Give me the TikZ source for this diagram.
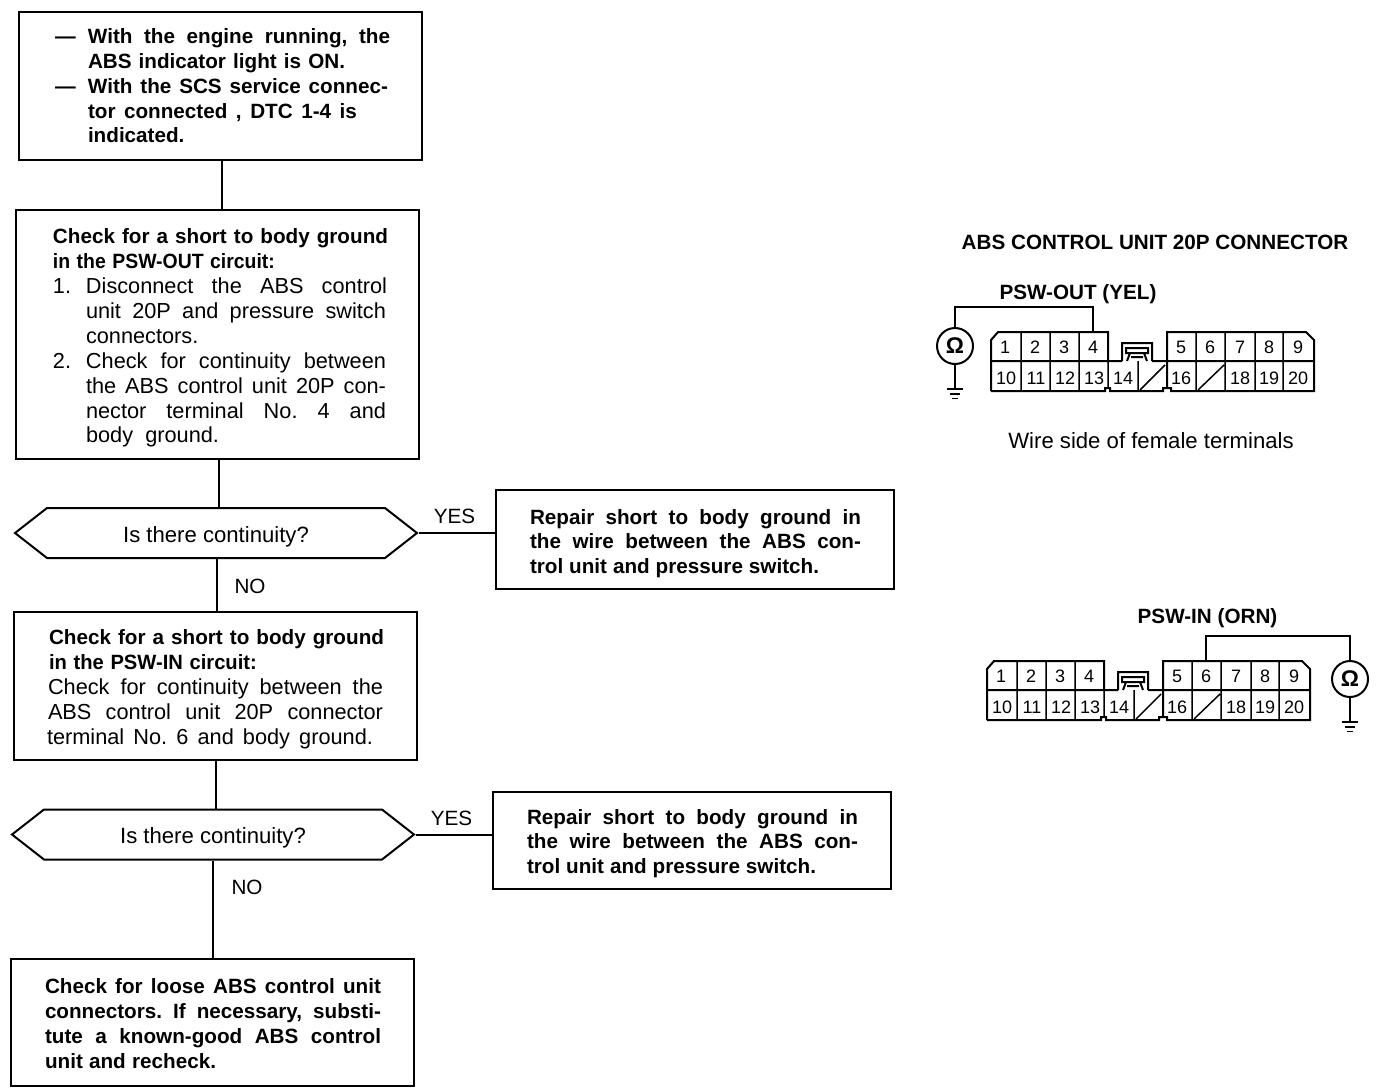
\documentclass[tikz,border=0pt]{standalone}
\usepackage{fontspec}
\setmainfont{Liberation Sans}
\usetikzlibrary{shapes.symbols}
\newdimen\pxu \pxu=0.75pt
\newcommand\TL[3]{\leavevmode\hspace*{#1\pxu}\makebox[#2\pxu][s]{\spaceskip=0pt\xspaceskip=0pt\frenchspacing #3}}
\newcommand\PF[2]{\leavevmode\makebox[0pt][l]{\hspace*{#1\pxu}#2}}
\newcommand\TP[1]{\leavevmode\rule{0pt}{#1pt}}
\newcommand\SX[3]{\leavevmode\hspace*{#1\pxu}\scalebox{#2}[1]{#3}}
\newcommand\RG{\fontsize{16.3}{18.7}\selectfont\mdseries}
\tikzset{
  x=0.75pt,y=-0.75pt,
  flowbox/.style n args={2}{draw,rectangle,inner sep=0pt,anchor=north west,align=left,
     minimum width=#1*0.75pt,minimum height=#2*0.75pt,text width=#1*0.75pt,
     font=\fontsize{15.5}{18.6}\selectfont\bfseries},
  decision/.style={draw,signal,signal to=east and west,signal pointer angle=76,inner sep=0pt,
     minimum width=402*0.75pt,minimum height=50*0.75pt,font=\fontsize{16.6}{18}\selectfont},
  lbl/.style={inner sep=0pt,font=\fontsize{15.5}{18}\selectfont},
  blbl/.style={inner sep=0pt,font=\fontsize{15.5}{18}\selectfont\bfseries},
  pin/.style={inner sep=0pt,text height=9.5pt,text depth=0pt,font=\fontsize{13.5}{15}\selectfont},
  ohm/.style={draw,circle,inner sep=0pt,minimum size=36*0.75pt,font=\fontsize{17}{18}\selectfont\bfseries},
  thin wire/.style={line width=1.1pt}
}
\newcommand\absconn[2]{%
 \begin{scope}[shift={(#2)}]
  \draw (991,391) -- (991,340) -- (998,332) -- (1108,332) -- (1108,361) -- (991,361)
        (991,391) -- (1105,391) -- (1105,388) -- (1110,388) -- (1110,391) -- (1163,391)
        -- (1163,388) -- (1171,388) -- (1171,391) -- (1314,391) -- (1314,340) -- (1306,332)
        -- (1167,332) -- (1167,388)
        (1108,361) -- (1122,361) (1152,361) -- (1314,361)
        (1122,361) -- (1122,343) -- (1152,343) -- (1152,361)
        (1126,348) -- (1148,348) -- (1148,353) -- (1126,353) -- cycle
        (1130,353) -- (1127,361) (1144,353) -- (1147,361) (1131,357) -- (1143,357);
  \draw[thin wire] (1021,332) -- (1021,391) (1050,332) -- (1050,391) (1079,332) -- (1079,391)
        (1108,361) -- (1108,388) (1138,361) -- (1138,391)
        (1196,332) -- (1196,391) (1225,332) -- (1225,391) (1255,332) -- (1255,391) (1283,332) -- (1283,391)
        (1140,390) -- (1165,365) (1198,390) -- (1224,365);
  \foreach \n/\cx in {1/1005,2/1035,3/1064,4/1093,5/1181,6/1210,7/1240,8/1269,9/1298}
    \node[pin] (#1p\n) at (\cx,347) {\n};
  \foreach \n/\cx in {10/1006,11/1036,12/1065,13/1094,14/1123,16/1181,18/1240,19/1269,20/1298}
    \node[pin] (#1p\n) at (\cx,378) {\n};
 \end{scope}}
\begin{document}
\begin{tikzpicture}[line width=1.5pt]
\useasboundingbox (0,0) rectangle (1376,1090);
\node[flowbox={403}{148}] (b1) at (18,11) {%
 \PF{36}{---}\TL{69}{302}{With the engine running, the}\\
 \TL{69}{257}{ABS indicator light is ON.}\\
 \PF{36}{---}\TL{69}{300}{With the SCS service connec-}\\
 \TL{69}{269}{tor connected , DTC 1-4 is}\\
 \TL{69}{99}{indicated.}};
\node[flowbox={403}{249}] (b2) at (15,209) {%
 \TP{16.5}\TL{37}{335}{Check for a short to body ground}\\
 \SX{37}{.94}{in the PSW-OUT circuit:}\\
 {\RG\PF{37}{1.}\TL{70}{301}{Disconnect the ABS control}\\
 \TL{70}{300}{unit 20P and pressure switch}\\
 \TL{70}{115}{connectors.}\\
 \PF{37}{2.}\TL{70}{300}{Check for continuity between}\\
 \TL{70}{300}{the ABS control unit 20P con-}\\
 \TL{70}{300}{nector terminal No. 4 and}\\
 \TL{70}{133}{body ground.}}};
\node[decision] (d1) at (216,533) {\raisebox{-7pt}[0pt][0pt]{Is there continuity?}};
\node[flowbox={398}{99}] (r1) at (495,489) {%
 \TP{17.3}\TL{34}{331}{Repair short to body ground in}\\
 \TL{34}{331}{the wire between the ABS con-}\\
 \TL{34}{289}{trol unit and pressure switch.}};
\node[flowbox={403}{148}] (b3) at (13,611) {%
 \TP{15.8}\TL{35}{335}{Check for a short to body ground}\\
 \SX{35}{.975}{in the PSW-IN circuit:}\\
 {\RG\TL{34}{335}{Check for continuity between the}\\
 \TL{34}{335}{ABS control unit 20P connector}\\
 \TL{33}{326}{terminal No. 6 and body ground.}}};
\node[decision] (d2) at (213,834.5) {\raisebox{-7pt}[0pt][0pt]{Is there continuity?}};
\node[flowbox={398}{97}] (r2) at (492,791) {%
 \TP{15.8}\TL{34}{331}{Repair short to body ground in}\\
 \TL{34}{331}{the wire between the ABS con-}\\
 \TL{34}{289}{trol unit and pressure switch.}};
\node[flowbox={403}{127}] (b4) at (10,958) {%
 \TP{12.8}\TL{34}{336}{Check for loose ABS control unit}\\
 \TL{34}{336}{connectors. If necessary, substi-}\\
 \TL{34}{336}{tute a known-good ABS control}\\
 \TL{34}{171}{unit and recheck.}};
\draw ([xshift=1.1pt]b1.south) -- ([xshift=1.1pt]b1.south |- b2.north);
\draw ([xshift=1.1pt]b2.south) -- ([xshift=1.1pt]b2.south |- d1.north);
\draw ([xshift=0.7pt]d1.south) -- ([xshift=0.7pt]d1.south |- b3.north);
\draw ([xshift=0.7pt]b3.south) -- ([xshift=0.7pt]b3.south |- d2.north);
\draw (d2.south) -- (d2.south |- b4.north);
\draw (d1.east) -- (r1.west |- d1.east);
\draw (d2.east) -- (r2.west |- d2.east);
\node[lbl] (yes1) at (454.5,516) {YES};
\node[lbl] (no1) at (250,586) {NO};
\node[lbl] (yes2) at (451.5,818) {YES};
\node[lbl] (no2) at (247,887) {NO};
% connector views
\node[blbl] (title) at (1155,242) {ABS CONTROL UNIT 20P CONNECTOR};
\node[blbl] (outlbl) at (1078,294) {PSW-OUT (YEL)};
\node[lbl,font=\fontsize{16.6}{18}\selectfont] (wirelbl) at (1151,441) {Wire side of female terminals};
\node[blbl] (inlbl) at (1207.5,618) {PSW-IN (ORN)};
\absconn{u}{0,0}
\absconn{l}{-4,329}
\node[ohm] (omu) at (955,346) {Ω};
\node[ohm] (oml) at (1350,679) {Ω};
\coordinate (wu) at (1093,332);
\coordinate (wl) at (1206,661);
\draw[thin wire] (omu.north) -- ++(0,-20) -| (wu);
\draw[thin wire] (oml.north) -- ++(0,-24) -| (wl);
\draw[thin wire] (omu.south) -- ++(0,24) coordinate (gu);
\draw[thin wire] (oml.south) -- ++(0,24) coordinate (gl);
\draw[thin wire] ([xshift=-6pt]gu) -- ([xshift=6pt]gu)
   ([xshift=-4pt,yshift=-3.8pt]gu) -- ([xshift=4pt,yshift=-3.8pt]gu)
   ([xshift=-2pt,yshift=-7pt]gu) -- ([xshift=2pt,yshift=-7pt]gu);
\draw[thin wire] ([xshift=-6pt]gl) -- ([xshift=6pt]gl)
   ([xshift=-4pt,yshift=-3.8pt]gl) -- ([xshift=4pt,yshift=-3.8pt]gl)
   ([xshift=-2pt,yshift=-7pt]gl) -- ([xshift=2pt,yshift=-7pt]gl);
\end{tikzpicture}
\end{document}
